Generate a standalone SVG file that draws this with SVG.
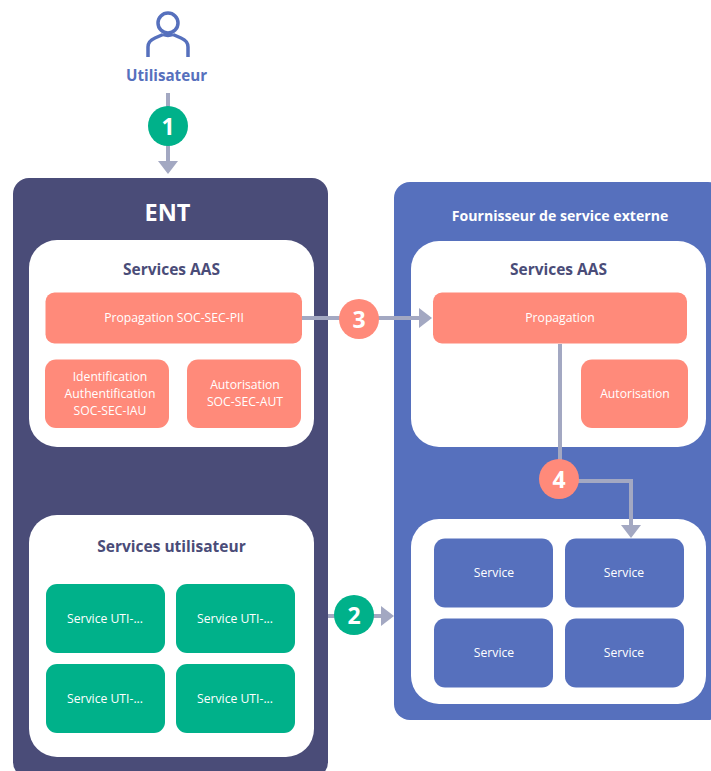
<svg xmlns="http://www.w3.org/2000/svg" width="711" height="771" viewBox="0 0 711 771">
<style>
text{font-family:"Open Sans","Noto Sans",sans-serif;text-anchor:middle}
.w{fill:#fff}
.s{font-size:12.200px;fill:#fff}
.h{font-size:15.500px;font-weight:700;fill:#4a4c78}
.sal{fill:#ff8a7a}
.grn{fill:#00b18a}
.blu{fill:#5670bd}
.c{fill:none;stroke:#a3a8c2;stroke-width:4}
.n{font-size:23px;font-weight:700;fill:#fff}
</style>
<defs><marker id="a" markerUnits="userSpaceOnUse" markerWidth="22" markerHeight="22" refX="1" refY="10" orient="auto"><path d="M0 0L13 10L0 20Z" fill="#a3a8c2"/></marker></defs>
<rect width="711" height="771" fill="#fff"/>
<g id="user">
<circle cx="168" cy="23" r="10" fill="none" stroke="#5670bd" stroke-width="3.5"/>
<path d="M148 57V47Q148 41 155 38L163 34.500M188 57V47Q188 41 181 38L173 34.500" fill="none" stroke="#5670bd" stroke-width="3.500"/>
<path d="M163 34.500Q168 36.500 173 34.500" fill="none" stroke="#5670bd" stroke-width="3.500"/>
<text x="166.500" y="80.500" font-size="15.200" font-weight="700" fill="#5670bd">Utilisateur</text>
</g>
<g id="ent">
<rect x="13" y="178" width="315" height="600" rx="16" fill="#4a4c78"/>
<text x="167.500" y="221" font-size="23.500" font-weight="700" class="w">ENT</text>
</g>
<g id="ext">
<rect x="394" y="182" width="330" height="538" rx="16" class="blu"/>
<text x="560" y="221" font-size="14.100" font-weight="700" class="w">Fournisseur de service externe</text>
</g>
<g id="aas-ent">
<rect x="29" y="240" width="285" height="207" rx="28" class="w"/>
<text x="171.500" y="275" class="h">Services AAS</text>
</g>
<g id="prop-ent"><rect x="45.500" y="292.500" width="256.500" height="51" rx="9" class="sal"/><text x="174" y="322" class="s">Propagation SOC-SEC-PII</text></g>
<g id="iau"><rect x="45" y="359.500" width="124" height="68.500" rx="11" class="sal"/><text x="110" y="381" class="s">Identification</text><text x="110" y="398" class="s">Authentification</text><text x="110" y="415" class="s">SOC-SEC-IAU</text></g>
<g id="aut"><rect x="187" y="359.500" width="114" height="68.500" rx="11" class="sal"/><text x="245" y="389" class="s">Autorisation</text><text x="245" y="406" class="s">SOC-SEC-AUT</text></g>
<g id="uti">
<rect x="29" y="515" width="285" height="242" rx="28" class="w"/>
<text x="171.500" y="552" class="h">Services utilisateur</text>
</g>
<g id="u1"><rect x="46" y="584" width="119" height="69" rx="11" class="grn"/><text x="105" y="622.500" class="s">Service UTI-...</text></g>
<g id="u2"><rect x="176" y="584" width="119" height="69" rx="11" class="grn"/><text x="235" y="622.500" class="s">Service UTI-...</text></g>
<g id="u3"><rect x="46" y="664" width="119" height="69" rx="11" class="grn"/><text x="105" y="702.500" class="s">Service UTI-...</text></g>
<g id="u4"><rect x="176" y="664" width="119" height="69" rx="11" class="grn"/><text x="235" y="702.500" class="s">Service UTI-...</text></g>
<g id="aas-ext">
<rect x="411" y="241" width="295" height="206" rx="28" class="w"/>
<text x="558.500" y="275" class="h">Services AAS</text>
</g>
<g id="prop-ext"><rect x="433" y="292.500" width="254" height="51" rx="9" class="sal"/><text x="560" y="322" class="s">Propagation</text></g>
<g id="aut-ext"><rect x="581" y="359.500" width="107" height="68.500" rx="11" class="sal"/><text x="635" y="398" class="s">Autorisation</text></g>
<g id="svc">
<rect x="411" y="519" width="295" height="185" rx="28" class="w"/>
</g>
<g id="s1"><rect x="434" y="538.500" width="119" height="69" rx="11" class="blu"/><text x="494" y="576.500" class="s">Service</text></g>
<g id="s2"><rect x="565" y="538.500" width="119" height="69" rx="11" class="blu"/><text x="624" y="576.500" class="s">Service</text></g>
<g id="s3"><rect x="434" y="618.500" width="119" height="69" rx="11" class="blu"/><text x="494" y="656.500" class="s">Service</text></g>
<g id="s4"><rect x="565" y="618.500" width="119" height="69" rx="11" class="blu"/><text x="624" y="656.500" class="s">Service</text></g>
<g id="connectors">
<path class="c" d="M168 93V162" marker-end="url(#a)"/>
<path class="c" d="M328 616H382" marker-end="url(#a)"/>
<path class="c" d="M302 318H420" marker-end="url(#a)"/>
<path class="c" d="M560 344V481H631V526" marker-end="url(#a)"/>
</g>
<g id="b1"><circle cx="168" cy="126" r="20" class="grn"/><text x="168" y="134.500" class="n">1</text></g>
<g id="b2"><circle cx="354" cy="615" r="20" class="grn"/><text x="354" y="623.500" class="n">2</text></g>
<g id="b3"><circle cx="359" cy="319" r="20" class="sal"/><text x="359" y="327.500" class="n">3</text></g>
<g id="b4"><circle cx="559" cy="479" r="20" class="sal"/><text x="559" y="487.500" class="n">4</text></g>
</svg>
